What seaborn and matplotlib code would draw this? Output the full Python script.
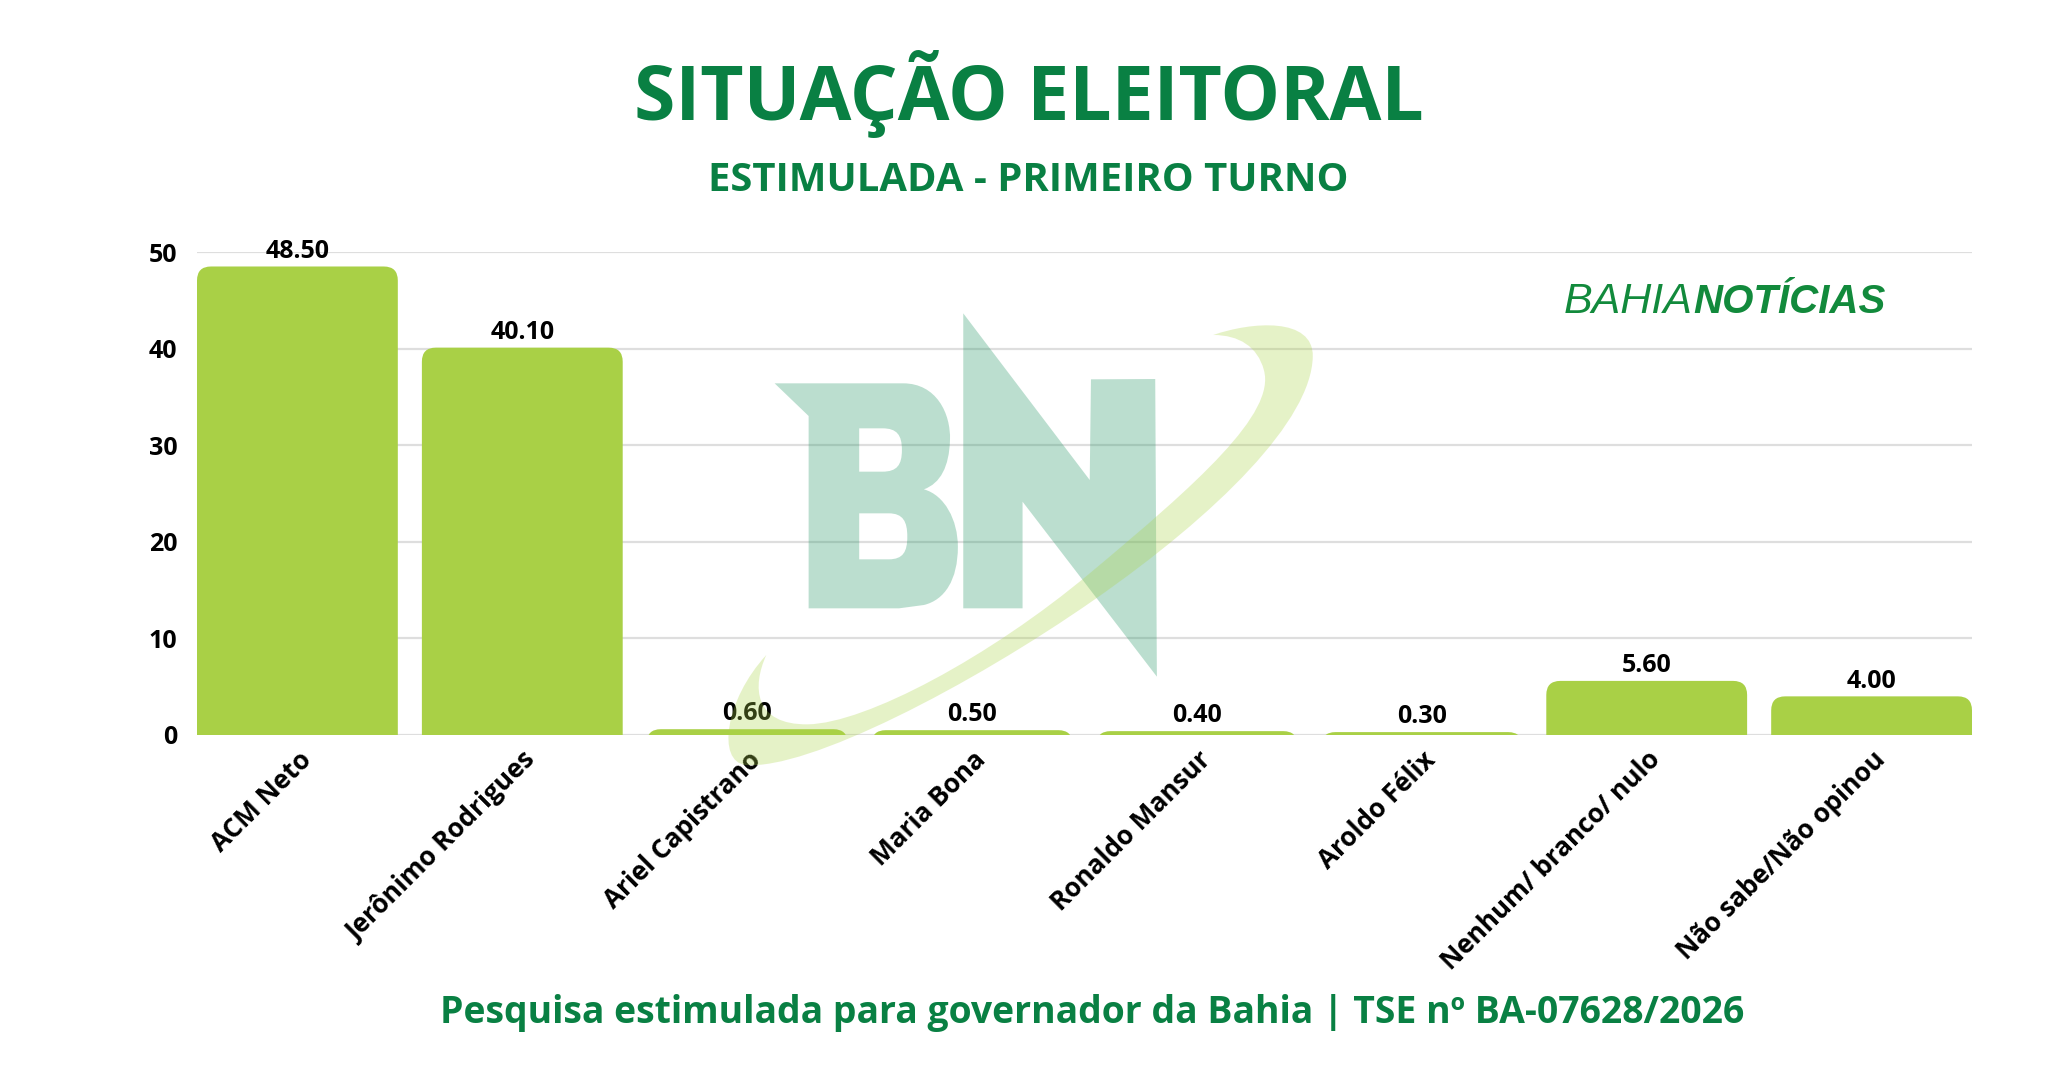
import numpy as np
import pandas as pd
import matplotlib
matplotlib.use("Agg")
import matplotlib.pyplot as plt
import seaborn as sns
from matplotlib.patches import FancyBboxPatch, PathPatch, Polygon
from matplotlib.path import Path
from matplotlib.transforms import Affine2D

# ---------------- data ----------------
categories = ["ACM Neto", "Jerônimo Rodrigues", "Ariel Capistrano", "Maria Bona",
              "Ronaldo Mansur", "Aroldo Félix", "Nenhum/ branco/ nulo", "Não sabe/Não opinou"]
values = [48.5, 40.1, 0.6, 0.5, 0.4, 0.3, 5.6, 4.0]
yticks = [0, 10, 20, 30, 40, 50]

title = "SITUAÇÃO ELEITORAL"
subtitle = "ESTIMULADA - PRIMEIRO TURNO"
footer = "Pesquisa estimulada para governador da Bahia | TSE nº BA-07628/2026"

# ---------------- style ----------------
W, H = 2057, 1080
GREEN = "#098043"
BAR = "#a9d046"
LOGO = "#128a3c"
sns.set_theme(style="white")
plt.rcParams["font.family"] = ["Open Sans", "DejaVu Sans"]

fig = plt.figure(figsize=(W / 100, H / 100), dpi=100)
fig.patch.set_facecolor("white")
ax_l, ax_r, ax_t, ax_b = 197, 1972, 252, 735
ax = fig.add_axes([ax_l / W, 1 - ax_b / H, (ax_r - ax_l) / W, (ax_b - ax_t) / H])

BW = 0.893
df = pd.DataFrame({"cat": categories, "val": values})
sns.barplot(data=df, x="cat", y="val", color=BAR, saturation=1, width=BW, ax=ax, zorder=2)

n = len(categories)
ax.set_xlim(-BW / 2, n - 1 + BW / 2)
ax.set_ylim(0, 50)
ax.set_yticks(yticks)
ax.set_xlabel("")
ax.set_ylabel("")
for s in ax.spines.values():
    s.set_visible(False)
ax.grid(axis="y", color="#dedede", linewidth=1.6, zorder=0)
ax.set_axisbelow(True)
ax.tick_params(axis="y", length=0, pad=14, labelsize=18)
ax.tick_params(axis="x", length=0, pad=8, labelsize=18.8)
for lab in ax.get_yticklabels():
    lab.set_fontweight("bold")
    lab.set_color("black")
ax.set_xticks(range(n))
ax.set_xticklabels(categories, rotation=45, ha="right", rotation_mode="anchor",
                   fontweight="bold", color="black")

# rounded top corners
px_x = (ax_r - ax_l) / (n - 1 + BW)
px_y = (ax_b - ax_t) / 50
r_px = 14
rx, ry = r_px / px_x, r_px / px_y
container = ax.containers[0]
for p in container.patches:
    x0, w, h = p.get_x(), p.get_width(), p.get_height()
    p.set_visible(False)
    ext = max(ry, 2 * ry - h) + 0.05
    fb = FancyBboxPatch((x0, -ext), w, h + ext,
                        boxstyle=f"round,pad=0,rounding_size={rx}",
                        mutation_aspect=ry / rx, facecolor=BAR, edgecolor="none",
                        zorder=2)
    ax.add_patch(fb)

ax.bar_label(container, labels=[f"{v:.2f}" for v in values], padding=2,
             fontsize=18, fontweight="bold", color="black")

# ---------------- watermark (decorative logo) ----------------
tz = Affine2D().scale(1 / 2.412, 1 / 3.0).translate(700, 280).scale(1 / W, -1 / H).translate(0, 1) + fig.transFigure

MV, LN, C4, CP = Path.MOVETO, Path.LINETO, Path.CURVE4, Path.CLOSEPOLY
b_verts = [(180, 310), (490, 310),
           (570, 310), (605, 400), (603, 480),
           (601, 560), (580, 610), (540, 628),
           (590, 645), (622, 720), (622, 800),
           (622, 900), (590, 960), (540, 975),
           (480, 985), (262, 985), (262, 408), (180, 310)]
b_codes = [MV, LN, C4, C4, C4, C4, C4, C4, C4, C4, C4, C4, C4, C4, LN, LN, LN, CP]
h1 = [(384, 445), (384, 575), (440, 575), (475, 575), (487, 555), (487, 510),
      (487, 465), (475, 445), (440, 445), (384, 445)]
h1c = [MV, LN, LN, C4, C4, C4, C4, C4, C4, CP]
h2 = [(384, 700), (384, 838), (455, 838), (490, 838), (500, 815), (500, 770),
      (500, 725), (490, 700), (455, 700), (384, 700)]
h2c = h1c
bpath = Path(b_verts + h1 + h2, b_codes + h1c + h2c)
TEAL = (32 / 255, 148 / 255, 98 / 255, 0.3)
fig.add_artist(PathPatch(bpath, transform=tz, facecolor=TEAL, edgecolor="none", zorder=5))
n_verts = [(635, 100), (940, 600), (943, 298), (1098, 297), (1102, 1190),
           (778, 665), (778, 985), (635, 985)]
fig.add_artist(Polygon(n_verts, closed=True, transform=tz,
                       facecolor=TEAL, edgecolor="none", zorder=5))
sw = [(1238, 165),
      (1330, 125), (1480, 110), (1478, 230),
      (1475, 420), (1250, 700), (950, 960),
      (650, 1220), (260, 1470), (110, 1455),
      (40, 1445), (60, 1260), (160, 1125),
      (125, 1220), (130, 1335), (260, 1333),
      (400, 1330), (700, 1130), (940, 880),
      (1200, 610), (1390, 400), (1360, 270),
      (1345, 200), (1300, 165), (1238, 165),
      (1238, 165)]
swc = [MV] + [C4] * 24 + [CP]
fig.add_artist(PathPatch(Path(sw, swc), transform=tz,
                         facecolor=(172 / 255, 212 / 255, 72 / 255, 0.3),
                         edgecolor="none", zorder=6))

# ---------------- texts ----------------
fig.text(0.5, 1 - 120 / H, title, ha="center", va="baseline", fontsize=54,
         fontweight="bold", color=GREEN)
fig.text(0.5, 1 - 191 / H, subtitle, ha="center", va="baseline", fontsize=28.8,
         fontweight="bold", color=GREEN)
fig.text(1092 / W, 1 - 1023 / H, footer, ha="center", va="baseline",
         fontsize=26.9, fontweight="bold", color=GREEN)

logo_fam = ["Liberation Sans", "DejaVu Sans"]
t1 = fig.text(1564 / W, 1 - 313 / H, "BAHIA", ha="left", va="baseline", fontsize=31,
              style="italic", fontweight="normal", family=logo_fam, color=LOGO)
fig.canvas.draw()
bb = t1.get_window_extent(renderer=fig.canvas.get_renderer())
fig.text(bb.x1 / W, 1 - 313 / H, "NOTÍCIAS", ha="left", va="baseline", fontsize=29,
         style="italic", fontweight="bold", family=logo_fam, color=LOGO)

fig.savefig("out.png", dpi=100, facecolor="white")
